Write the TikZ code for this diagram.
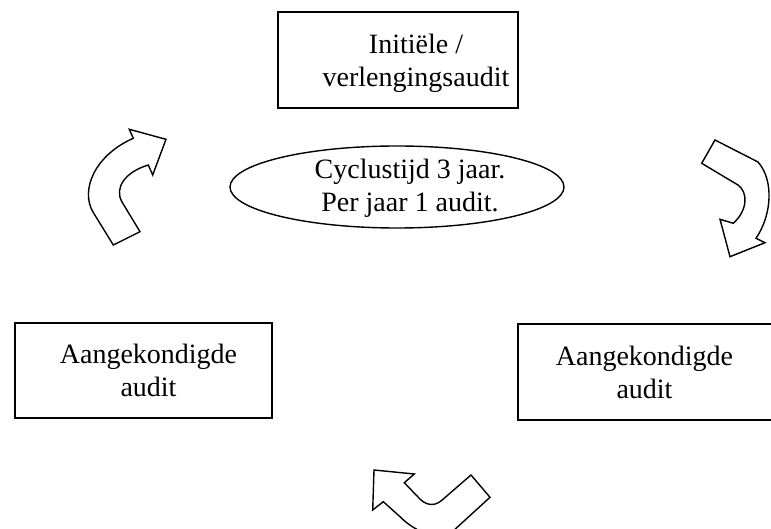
\documentclass[tikz,border=0pt]{standalone}
\usepackage{fontspec}
\setmainfont{Liberation Serif}
\usetikzlibrary{shapes.geometric}
\tikzset{
  boxnode/.style={draw, line width=1.6pt, inner sep=0pt},
  txt/.style={inner sep=0pt, align=center, font=\fontsize{28}{33}\selectfont},
  ovalnode/.style={draw, ellipse, line width=1.4pt, inner sep=0pt,
    minimum width=334pt, minimum height=82pt},
  blockarrow/.style={draw, fill=white, line width=1.4pt, line join=miter}
}
\begin{document}
\begin{tikzpicture}[x=1pt,y=-1pt]
\path[use as bounding box] (0,0) rectangle (771,529);
\clip (0,0) rectangle (771,529);
\fill[white] (0,0) rectangle (771,529);

\node[boxnode, minimum width=240pt, minimum height=96pt] (top) at (398,60) {};
\node[txt] (toptext) at ([xshift=18pt,yshift=-3pt]top.center) {Initiële /\\verlengingsaudit};
\node[boxnode, minimum width=257pt, minimum height=95pt] (left) at (143.5,370.5) {};
\node[txt] (lefttext) at ([xshift=5pt]left.center) {Aangekondigde\\audit};
\node[boxnode, minimum width=257pt, minimum height=96pt] (right) at (646.5,372) {};
\node[txt] (righttext) at ([xshift=-2pt]right.center) {Aangekondigde\\audit};
\node[ovalnode] (cycle) at (397,187) {};
\node[txt] (cycletext) at ([xshift=13pt,yshift=-1pt]cycle.center) {Cyclustijd 3 jaar.\\Per jaar 1 audit.};

% upper-left arrow
\path[blockarrow] (166,139.3) -- (152.7,175) -- (148.3,165)
  .. controls (125,172) and (114,188) .. (122,202) -- (140,231.7)
  -- (113.3,245) -- (93,212) .. controls (80,190) and (95,155) .. (133.3,138.3)
  -- (129.3,129.3) -- cycle;

% right arrow
\path[blockarrow] (715,140) -- (701.7,163.3) -- (738,185)
  .. controls (748,192) and (748,210) .. (733.3,223.3)
  -- (720,219.3) -- (730,256.7) -- (765,242.7) -- (756,238.3)
  .. controls (772,215) and (774,180) .. (758,162) -- cycle;

% bottom arrow
\path[blockarrow] (374,470) -- (414.3,474) -- (404.3,482.7) -- (418,497)
  .. controls (425,505) and (433,507) .. (441,501) -- (471,475)
  -- (490,497.3) -- (452,532) .. controls (440,542) and (415,532) .. (400,516.7)
  -- (383.3,501.7) -- (372.7,510) -- cycle;
\end{tikzpicture}
\end{document}
